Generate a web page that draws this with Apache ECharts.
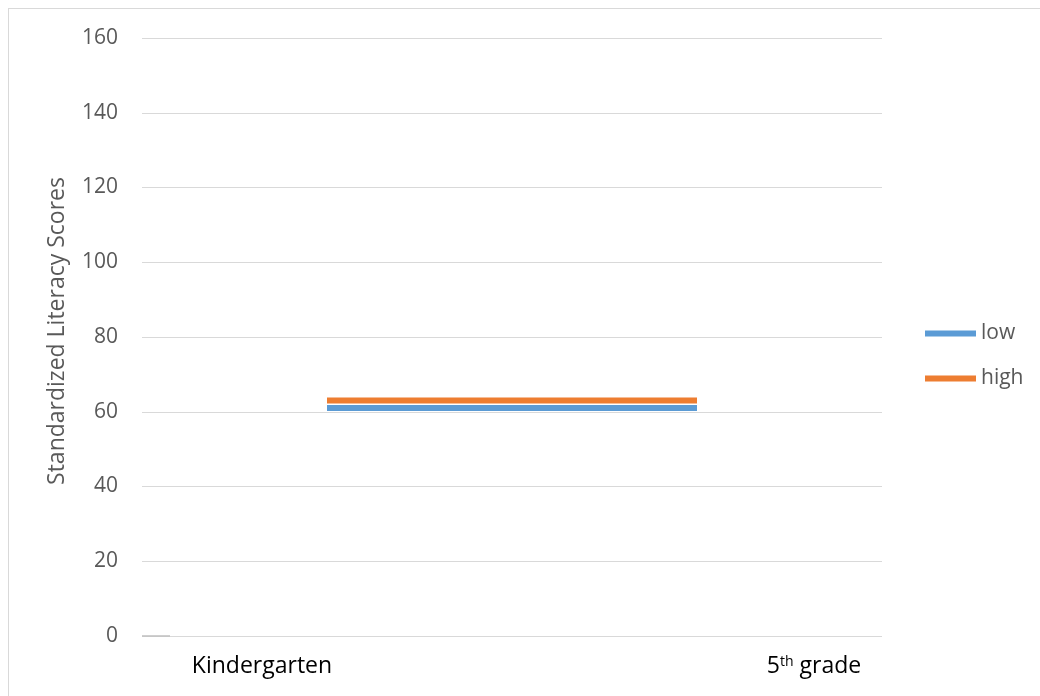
<!DOCTYPE html>
<html>
<head>
<meta charset="utf-8">
<script src="https://cdn.jsdelivr.net/npm/echarts@6/dist/echarts.min.js"></script>
<style>
  html, body { margin: 0; padding: 0; background: #fff; }
  #frame { position: absolute; left: 8px; top: 8px; width: 1040px; height: 696px; border: 1px solid #d9d9d9; box-sizing: border-box; }
  #chart { position: absolute; left: 0; top: 0; width: 1040px; height: 696px; }
</style>
</head>
<body>
<div id="frame"></div>
<div id="chart"></div>
<script>
// Grade levels on the x axis
const categories = ['Kindergarten', '5th grade'];
// Standardized literacy scores for each group
const lowScores = [61, 61];
const highScores = [63, 63];
// Value axis range
const yMin = 0, yMax = 160, yStep = 20;

const FONT = '"Open Sans", "Noto Sans", sans-serif';
const chart = echarts.init(document.getElementById('chart'));

chart.setOption({
  animation: false,
  textStyle: { fontFamily: FONT },
  grid: { left: 142, right: 158, top: 38, bottom: 60, containLabel: false },
  legend: {
    orient: 'vertical',
    left: 925,
    top: 321,
    padding: 0,
    itemWidth: 51,
    itemHeight: 6,
    itemGap: 20,
    icon: 'rect',
    textStyle: { fontSize: 21, color: '#595959', fontFamily: FONT, lineHeight: 25 },
    data: ['low', 'high']
  },
  xAxis: {
    type: 'category',
    data: categories,
    boundaryGap: true,
    axisLine: { show: false },
    axisTick: { show: false },
    axisLabel: {
      interval: 0,
      margin: 19,
      color: '#000',
      fontSize: 23,
      formatter: function (v) {
        if (v === 'Kindergarten') return '{t|Kindergarten}{spL|}';
        return '{spR|}{t|5}{sup|th}{t| grade}';
      },
      rich: {
        t: { fontSize: 23, color: '#000', fontFamily: FONT },
        sup: { fontSize: 14, color: '#000', fontFamily: FONT, verticalAlign: 'top', padding: [0, 0, 8, 0] },
        spL: { width: 130 },
        spR: { width: 234 }
      }
    }
  },
  yAxis: {
    type: 'value',
    min: yMin,
    max: yMax,
    interval: yStep,
    name: 'Standardized Literacy Scores',
    nameLocation: 'middle',
    nameGap: 73,
    nameRotate: 90,
    nameTextStyle: { fontSize: 23, color: '#595959', fontFamily: FONT, padding: [0, 0, 0, 12] },
    axisLine: { show: false },
    axisTick: { show: false },
    axisLabel: { margin: 24, fontSize: 21, color: '#595959' },
    splitLine: { lineStyle: { color: '#d9d9d9', width: 1 } }
  },
  series: [
    {
      name: 'low', type: 'line', data: lowScores,
      symbol: 'none', color: '#5b9bd5',
      lineStyle: { width: 6, color: '#5b9bd5', cap: 'butt' }, z: 3
    },
    {
      name: 'high', type: 'line', data: highScores,
      symbol: 'none', color: '#ed7d31',
      lineStyle: { width: 6, color: '#ed7d31', cap: 'butt' }, z: 4
    }
  ]
});

// Short darker stub of the category axis at the zero line
const y0 = chart.convertToPixel({ yAxisIndex: 0 }, 0);
const gridRect = chart.getModel().getComponent('grid').coordinateSystem.getRect();
chart.setOption({
  graphic: [{
    type: 'line',
    shape: { x1: gridRect.x, y1: y0, x2: gridRect.x + 28, y2: y0 },
    style: { stroke: '#bfbfbf', lineWidth: 1.5 },
    z: 5
  }]
});
</script>
</body>
</html>
